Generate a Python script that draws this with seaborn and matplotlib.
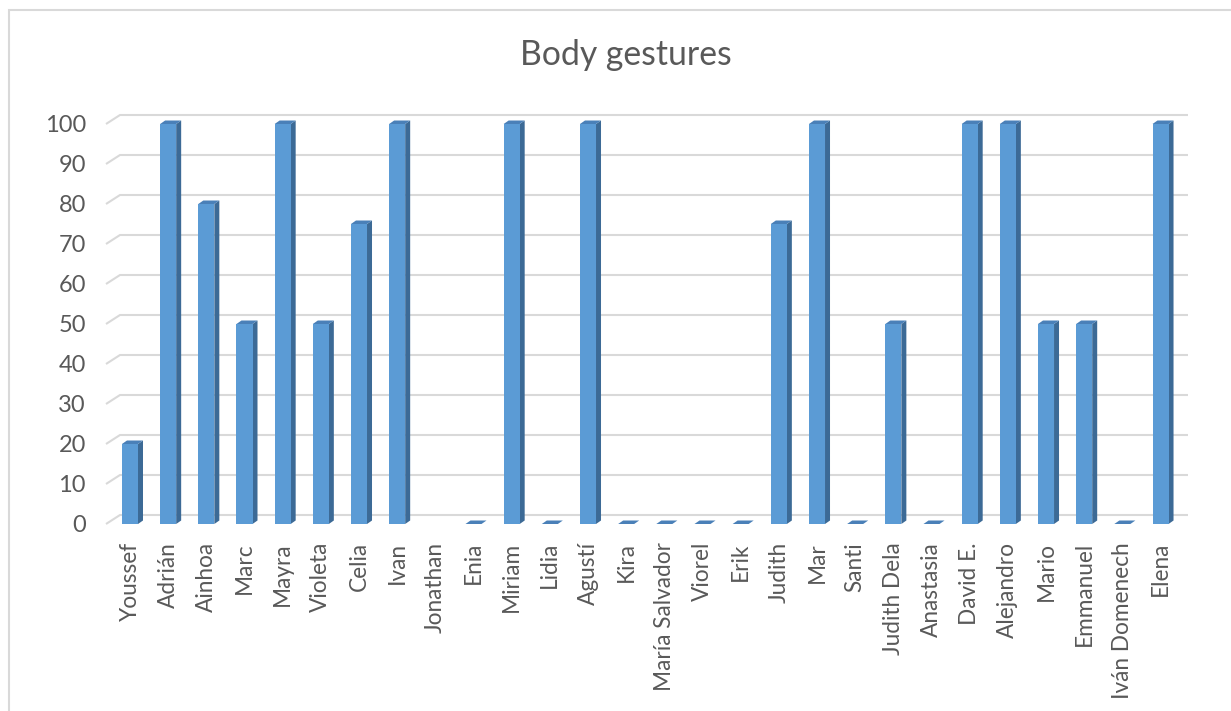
import numpy as np
import pandas as pd
import seaborn as sns
import matplotlib.pyplot as plt
from matplotlib.patches import Polygon, Rectangle

# Scores per participant (Jonathan has no recorded value)
names = ["Youssef", "Adrián", "Ainhoa", "Marc", "Mayra", "Violeta", "Celia", "Ivan",
         "Jonathan", "Enia", "Miriam", "Lidia", "Agustí", "Kira", "María Salvador",
         "Viorel", "Erik", "Judith", "Mar", "Santi", "Judith Dela", "Anastasia",
         "David E.", "Alejandro", "Mario", "Emmanuel", "Iván Domenech", "Elena"]
scores = [20, 100, 80, 50, 100, 50, 75, 100, np.nan, 0, 100, 0, 100, 0, 0,
          0, 0, 75, 100, 0, 50, 0, 100, 100, 50, 50, 0, 100]
y_ticks = [0, 10, 20, 30, 40, 50, 60, 70, 80, 90, 100]
title = "Body gestures"

FRONT = "#5B9BD5"
SIDE = "#3C6A96"
TOP = "#4A80B8"
GRID = "#D9D9D9"
TEXT = "#595959"

sns.set_theme(style="white")
plt.rcParams["font.family"] = ["Lato", "DejaVu Sans"]

W, H = 1231, 711
fig = plt.figure(figsize=(W / 100, H / 100), dpi=100)
ax_left, ax_right, ax_bottom, ax_top = 110.9, 1179.6, 524, 124
ax = fig.add_axes([ax_left / W, (H - ax_bottom) / H,
                   (ax_right - ax_left) / W, (ax_bottom - ax_top) / H])

df = pd.DataFrame({"name": names, "score": scores})
sns.barplot(data=df, x="name", y="score", order=names, color=FRONT,
            saturation=1, width=0.42, ax=ax, zorder=3, linewidth=0)

ax.set_xlim(-0.5, len(names) - 0.5)
ax.set_ylim(0, 100)

# pixel -> data unit conversions for the pseudo-3D depth
px_x = (len(names)) / (ax_right - ax_left)
px_y = 100 / (ax_bottom - ax_top)

# back-wall gridlines with a short diagonal at the left edge
gdx, gdy = 14 * px_x, 9 * px_y
gx0 = -0.5 + (106 - ax_left) * px_x
gx1 = -0.5 + (1188 - ax_left) * px_x
for v in y_ticks:
    ax.plot([gx0, gx0 + gdx, gx1], [v, v + gdy, v + gdy], color=GRID,
            lw=1.5, zorder=1, clip_on=False, solid_capstyle="butt")

# side and top faces for each bar
bdx, bdy = 5 * px_x, 3.5 * px_y
for bar in list(ax.patches):
    h = bar.get_height()
    if not np.isfinite(h):
        continue
    x0 = bar.get_x()
    x1 = x0 + bar.get_width()
    side = Polygon([(x1, 0), (x1 + bdx, bdy), (x1 + bdx, h + bdy), (x1, h)],
                   closed=True, fc=SIDE, ec="none", zorder=2.5, clip_on=False)
    top = Polygon([(x0, h), (x1, h), (x1 + bdx, h + bdy), (x0 + bdx, h + bdy)],
                  closed=True, fc=TOP, ec="none", zorder=3.5, clip_on=False)
    ax.add_patch(side)
    ax.add_patch(top)

for s in ax.spines.values():
    s.set_visible(False)
ax.set_xlabel("")
ax.set_ylabel("")
ax.set_yticks(y_ticks)
ax.tick_params(axis="y", length=0, pad=18, labelsize=17, labelcolor=TEXT)
ax.tick_params(axis="x", length=0, pad=13, labelsize=16.3, labelcolor=TEXT,
               labelrotation=90)
for lab in ax.get_xticklabels():
    lab.set_verticalalignment("top")
    lab.set_horizontalalignment("center")

fig.text(626 / W, 1 - 55 / H, title, ha="center", va="center",
         fontsize=24.3, color=TEXT)

# chart frame
fig.patches.append(Rectangle((9 / W, -0.1), 1.2, (H - 10) / H + 0.1,
                             transform=fig.transFigure, fill=False,
                             ec=GRID, lw=1.5))

fig.savefig("out.png", dpi=100, facecolor="white")
